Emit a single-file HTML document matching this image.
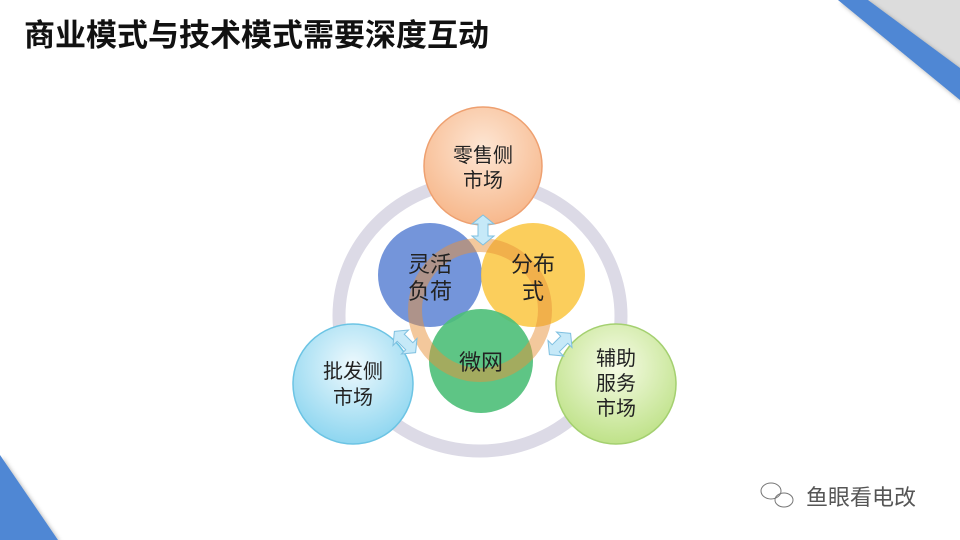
<!DOCTYPE html>
<html><head><meta charset="utf-8"><style>
html,body{margin:0;padding:0;background:#fff;}
body{width:960px;height:540px;overflow:hidden;position:relative;font-family:"Liberation Sans","Noto Sans CJK SC",sans-serif;}
</style></head><body>
<svg width="960" height="540" viewBox="0 0 960 540" xmlns="http://www.w3.org/2000/svg" style="position:absolute;left:0;top:0">
<defs>
<radialGradient id="gO" cx="50%" cy="35%" r="65%"><stop offset="0" stop-color="#fde6d4"/><stop offset="1" stop-color="#f7b88c"/></radialGradient>
<radialGradient id="gLB" cx="50%" cy="35%" r="65%"><stop offset="0" stop-color="#eef9fd"/><stop offset="1" stop-color="#8ed6f0"/></radialGradient>
<radialGradient id="gLG" cx="50%" cy="35%" r="65%"><stop offset="0" stop-color="#f6fbe6"/><stop offset="1" stop-color="#bfe289"/></radialGradient>
<filter id="sh" x="-20%" y="-20%" width="140%" height="140%"><feDropShadow dx="2" dy="2" stdDeviation="2" flood-color="#000" flood-opacity="0.3"/></filter>
</defs>
<polygon points="838,0 960,0 960,100" fill="#dcdcdc"/>
<polygon points="838,0 868,0 960,68 960,100" fill="#4f87d4" filter="url(#sh)"/>
<polygon points="0,455 58,540 0,540" fill="#4f87d4" filter="url(#sh)"/>
<text x="24" y="46" font-size="31" font-weight="bold" fill="#111" font-family="Liberation Sans, Noto Sans CJK SC, sans-serif">商业模式与技术模式需要深度互动</text>
<ellipse cx="480" cy="316" rx="141" ry="135" fill="none" stroke="#dcdae6" stroke-width="13"/>
<circle cx="430" cy="275" r="52" fill="#6d8fd8" opacity="0.95"/>
<circle cx="533" cy="275" r="52" fill="#fbc94a" opacity="0.9"/>
<circle cx="481" cy="361" r="52" fill="#4cbf78" opacity="0.9"/>
<circle cx="480" cy="310" r="65" fill="none" stroke="#e8923a" stroke-width="14" opacity="0.5"/>
<circle cx="483" cy="166" r="59" fill="url(#gO)" stroke="#eea070" stroke-width="1.5"/>
<circle cx="353" cy="384" r="60" fill="url(#gLB)" stroke="#6cc4e4" stroke-width="1.5"/>
<circle cx="616" cy="384" r="60" fill="url(#gLG)" stroke="#a4d070" stroke-width="1.5"/>
<g fill="#c6e9f8" stroke="#7fc0e0" stroke-width="1">
<g transform="translate(483,230)"><polygon points="0,-15 11,-6 5,-6 5,6 11,6 0,15 -11,6 -5,6 -5,-6 -11,-6"/></g>
<g transform="translate(405,342) rotate(-45)"><polygon points="0,-15 11,-6 5,-6 5,6 11,6 0,15 -11,6 -5,6 -5,-6 -11,-6"/></g>
<g transform="translate(560,344) rotate(45)"><polygon points="0,-15 11,-6 5,-6 5,6 11,6 0,15 -11,6 -5,6 -5,-6 -11,-6"/></g>
</g>
<g font-family="Liberation Sans, Noto Sans CJK SC, sans-serif" fill="#222" text-anchor="middle">
<text x="483" y="162" font-size="20">零售侧</text>
<text x="483" y="187" font-size="20">市场</text>
<text x="430" y="272" font-size="22">灵活</text>
<text x="430" y="299" font-size="22">负荷</text>
<text x="533" y="272" font-size="22">分布</text>
<text x="533" y="299" font-size="22">式</text>
<text x="481" y="370" font-size="22">微网</text>
<text x="353" y="378" font-size="20">批发侧</text>
<text x="353" y="404" font-size="20">市场</text>
<text x="616" y="365" font-size="20">辅助</text>
<text x="616" y="390" font-size="20">服务</text>
<text x="616" y="415" font-size="20">市场</text>
</g>
<g fill="none" stroke="#777" stroke-width="1">
<ellipse cx="771" cy="491" rx="10" ry="8"/>
<ellipse cx="784" cy="500" rx="9" ry="7"/>
</g>
<text x="806" y="505" font-size="22" fill="#555" font-family="Liberation Sans, Noto Sans CJK SC, sans-serif">鱼眼看电改</text>
</svg>
</body></html>
